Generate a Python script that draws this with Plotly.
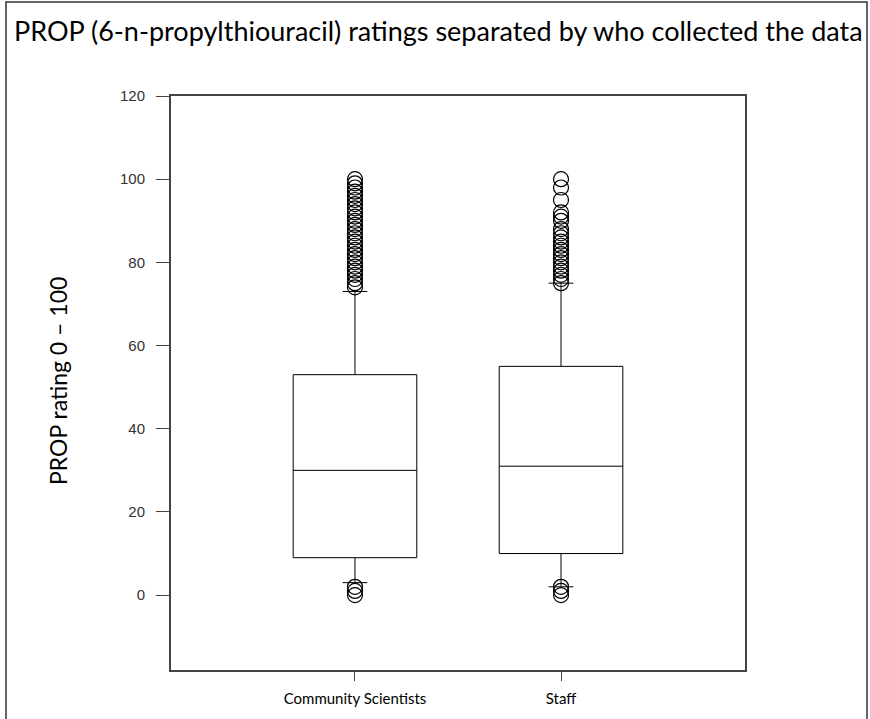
import plotly.graph_objects as go

categories = ["Community Scientists", "Staff"]
q1 = [9, 10]
median = [30, 31]
q3 = [53, 55]
lower_whisker = [3, 2]
upper_whisker = [73, 75]
cs_outliers = [0, 1, 2] + list(range(74, 101))
staff_outliers = [0, 1, 2, 75, 76, 77, 78, 79, 80, 81, 82, 83, 84, 85, 86, 87, 88, 90, 91, 92, 95, 98, 100]
y_ticks = [0, 20, 40, 60, 80, 100, 120]

W, H = 870, 719
L, R, T, B = 171, 870 - 745, 96, 719 - 670
pw, ph = W - L - R, H - T - B

def px(x):
    return (x - L) / pw

def py(y):
    return (H - B - y) / ph

fig = go.Figure()
fig.add_trace(go.Box(
    x=categories, q1=q1, median=median, q3=q3,
    lowerfence=lower_whisker, upperfence=upper_whisker,
    boxpoints=False, fillcolor="rgba(0,0,0,0)",
    line=dict(color="black", width=1), whiskerwidth=0.2,
    showlegend=False, hoverinfo="skip",
))
fig.add_trace(go.Scatter(
    x=[categories[0]] * len(cs_outliers), y=cs_outliers, mode="markers",
    marker=dict(symbol="circle-open", size=15, color="black", line=dict(width=1.2)),
    showlegend=False,
))
fig.add_trace(go.Scatter(
    x=[categories[1]] * len(staff_outliers), y=staff_outliers, mode="markers",
    marker=dict(symbol="circle-open", size=15, color="black", line=dict(width=1.2)),
    showlegend=False,
))

fig.update_layout(
    width=W, height=H,
    margin=dict(l=L, r=R, t=T, b=B, pad=0),
    plot_bgcolor="white", paper_bgcolor="white",
    boxgap=0.4, boxgroupgap=0,
    xaxis=dict(
        type="category", range=[-0.893, 1.893],
        showline=True, linecolor="#444", linewidth=2, mirror=True,
        ticks="outside", ticklen=9, tickcolor="#444", tickwidth=1,
        showgrid=False, zeroline=False, ticklabelstandoff=5,
        tickfont=dict(family="Lato", size=15, color="black"),
    ),
    yaxis=dict(
        range=[-18, 120], tickvals=y_ticks,
        showline=True, linecolor="#444", linewidth=2, mirror=True,
        ticks="outside", ticklen=13, tickcolor="#444", tickwidth=1,
        showgrid=False, zeroline=False, ticklabelstandoff=8,
        tickfont=dict(family="Liberation Sans", size=15, color="#333"),
    ),
    shapes=[dict(
        type="rect", xref="paper", yref="paper",
        x0=px(6), x1=px(867), y0=py(740), y1=py(2),
        line=dict(color="#333", width=1.5), fillcolor="rgba(0,0,0,0)",
    )],
    annotations=[
        dict(text="PROP (6-n-propylthiouracil) ratings separated by who collected the data",
             xref="paper", yref="paper", x=px(12), y=py(30), xanchor="left", yanchor="middle",
             showarrow=False, font=dict(family="Lato", size=27, color="black")),
        dict(text="PROP rating 0 – 100", textangle=-90,
             xref="paper", yref="paper", x=px(58), y=py(381), xanchor="center", yanchor="middle",
             showarrow=False, font=dict(family="Lato", size=23, color="black")),
    ],
)

fig.write_html("out.html", config={"displayModeBar": False},
               post_script="document.body.style.margin='0';")
